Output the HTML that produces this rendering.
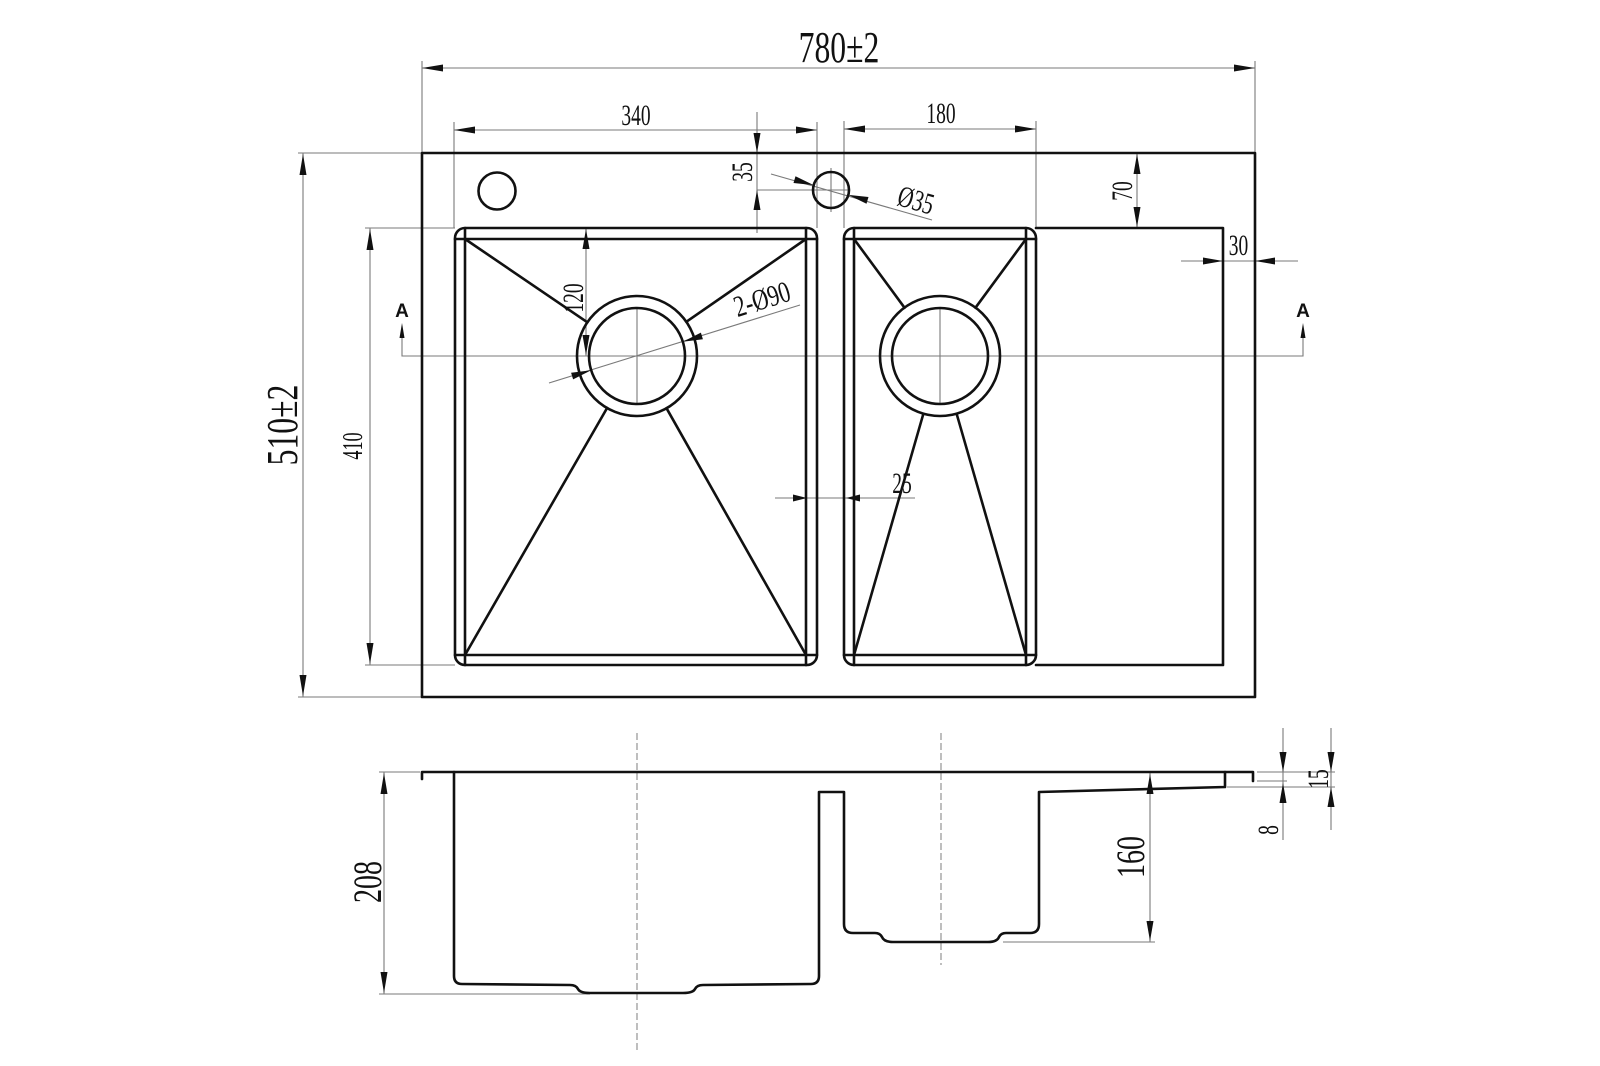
<!DOCTYPE html>
<html>
<head>
<meta charset="utf-8">
<style>
  html, body { margin: 0; padding: 0; background: #ffffff; }
  svg { display: block; }
  .thick { stroke: #111; stroke-width: 2.6; fill: none; stroke-linejoin: round; stroke-linecap: round; }
  .thin { stroke: #7a7a7a; stroke-width: 1.1; fill: none; }
  .dash { stroke: #8a8a8a; stroke-width: 1.1; fill: none; stroke-dasharray: 7 3; }
  .arr { fill: #111; stroke: none; }
  text { font-family: "Liberation Serif", "DejaVu Serif", serif; fill: #111; }
  .big { font-size: 44px; }
  .mid { font-size: 40px; }
  .sm { font-size: 30px; }
  .xs { font-size: 28px; }
  .A { font-family: "Liberation Sans", "DejaVu Sans", sans-serif; font-weight: bold; font-size: 19px; }
</style>
</head>
<body>
<svg width="1600" height="1066" viewBox="0 0 1600 1066" xmlns="http://www.w3.org/2000/svg">
  <rect x="0" y="0" width="1600" height="1066" fill="#ffffff"/>

  <!-- ================= TOP VIEW ================= -->
  <!-- thin dimension / extension lines -->
  <g class="thin">
    <!-- 780 -->
    <line x1="422" y1="68" x2="1255" y2="68"/>
    <line x1="422" y1="61" x2="422" y2="153"/>
    <line x1="1255" y1="61" x2="1255" y2="153"/>
    <!-- 340 -->
    <line x1="454" y1="130" x2="817" y2="130"/>
    <line x1="454" y1="122" x2="454" y2="228"/>
    <line x1="817" y1="122" x2="817" y2="228"/>
    <!-- 180 -->
    <line x1="844" y1="129" x2="1036" y2="129"/>
    <line x1="844" y1="121" x2="844" y2="228"/>
    <line x1="1036" y1="121" x2="1036" y2="228"/>
    <!-- 35 -->
    <line x1="757" y1="112" x2="757" y2="233"/>
    <line x1="757" y1="190" x2="850" y2="190"/>
    <line x1="831" y1="168" x2="831" y2="212"/>
    <!-- Ø35 leader -->
    <line x1="771" y1="174" x2="932" y2="220"/>
    <!-- 70 -->
    <line x1="1137" y1="153" x2="1137" y2="228"/>
    <!-- 30 -->
    <line x1="1181" y1="261" x2="1298" y2="261"/>
    <!-- 510 -->
    <line x1="303" y1="153" x2="303" y2="697"/>
    <line x1="298" y1="153" x2="422" y2="153"/>
    <line x1="298" y1="697" x2="422" y2="697"/>
    <!-- 410 -->
    <line x1="370" y1="228" x2="370" y2="665"/>
    <line x1="365" y1="228" x2="455" y2="228"/>
    <line x1="365" y1="665" x2="455" y2="665"/>
    <!-- 120 -->
    <line x1="586" y1="228" x2="586" y2="356"/>
    <!-- 2-Ø90 leader -->
    <line x1="549" y1="383" x2="800" y2="305"/>
    <!-- section line A-A -->
    <polyline points="402,338 402,356 1303,356 1303,338"/>
    <!-- drain crosshairs -->
    <line x1="637" y1="308" x2="637" y2="404"/>
    <line x1="940" y1="308" x2="940" y2="404"/>
    <!-- 25 -->
    <line x1="775" y1="498" x2="915" y2="498"/>
  </g>

  <!-- thick outlines -->
  <g class="thick">
    <rect x="422" y="153" width="833" height="544"/>
    <polyline points="1036,228 1223,228 1223,665 1036,665"/>
    <!-- tap holes -->
    <circle cx="497" cy="191" r="18.5"/>
    <circle cx="831" cy="190" r="18"/>

    <!-- left bowl -->
    <rect x="455" y="228" width="362" height="437" rx="10" ry="10"/>
    <line x1="465" y1="228" x2="465" y2="665"/>
    <line x1="806" y1="228" x2="806" y2="665"/>
    <line x1="455" y1="239" x2="817" y2="239"/>
    <line x1="455" y1="655" x2="817" y2="655"/>
    <circle cx="637" cy="356" r="60"/>
    <circle cx="637" cy="356" r="48"/>
    <line x1="465" y1="239" x2="587.4" y2="322.3"/>
    <line x1="806" y1="239" x2="686.3" y2="321.8"/>
    <line x1="465" y1="655" x2="607.1" y2="408.0"/>
    <line x1="806" y1="655" x2="666.5" y2="408.2"/>

    <!-- right bowl -->
    <rect x="844" y="228" width="192" height="437" rx="10" ry="10"/>
    <line x1="854" y1="228" x2="854" y2="665"/>
    <line x1="1026" y1="228" x2="1026" y2="665"/>
    <line x1="844" y1="239" x2="1036" y2="239"/>
    <line x1="844" y1="655" x2="1036" y2="655"/>
    <circle cx="940" cy="356" r="60"/>
    <circle cx="940" cy="356" r="48"/>
    <line x1="854" y1="239" x2="904.5" y2="307.7"/>
    <line x1="1026" y1="239" x2="975.5" y2="307.7"/>
    <line x1="854" y1="655" x2="923.4" y2="413.7"/>
    <line x1="1026" y1="655" x2="956.6" y2="413.7"/>
  </g>

  <!-- arrowheads top view -->
  <g class="arr">
    <!-- 780 -->
    <polygon points="422,68 443,64.5 443,71.5"/>
    <polygon points="1255,68 1234,64.5 1234,71.5"/>
    <!-- 340 -->
    <polygon points="454,130 475,126.5 475,133.5"/>
    <polygon points="817,130 796,126.5 796,133.5"/>
    <!-- 180 -->
    <polygon points="844,129 865,125.5 865,132.5"/>
    <polygon points="1036,129 1015,125.5 1015,132.5"/>
    <!-- 35 -->
    <polygon points="757,153 753.5,133 760.5,133"/>
    <polygon points="757,190 753.5,210 760.5,210"/>
    <!-- Ø35 -->
    <polygon points="813.7,185.1 795.5,176.2 793.5,183.0"/>
    <polygon points="848.3,194.9 866.5,203.8 868.5,197.0"/>
    <!-- 70 -->
    <polygon points="1137,154 1133.5,174 1140.5,174"/>
    <polygon points="1137,227 1133.5,207 1140.5,207"/>
    <!-- 30 -->
    <polygon points="1223,261 1203,257.5 1203,264.5"/>
    <polygon points="1255,261 1275,257.5 1275,264.5"/>
    <!-- 510 -->
    <polygon points="303,154 299.5,175 306.5,175"/>
    <polygon points="303,696 299.5,675 306.5,675"/>
    <!-- 410 -->
    <polygon points="370,229 366.5,250 373.5,250"/>
    <polygon points="370,664 366.5,643 373.5,643"/>
    <!-- 120 -->
    <polygon points="586,229 582.5,249 589.5,249"/>
    <polygon points="586,355 582.5,335 589.5,335"/>
    <!-- 2-Ø90 -->
    <polygon points="682.8,341.8 702.9,339.2 700.9,332.6"/>
    <polygon points="591.2,370.2 573.1,379.4 571.1,372.8"/>
    <!-- 25 -->
    <polygon points="807,498 793,494.5 793,501.5"/>
    <polygon points="846,498 860,494.5 860,501.5"/>
    <!-- A markers -->
    <polygon points="402,323 399.5,338 404.5,338"/>
    <polygon points="1303,323 1300.5,338 1305.5,338"/>
  </g>

  <!-- top view texts -->
  <text class="big" text-anchor="middle" transform="translate(839,62) scale(0.72,1)">780±2</text>
  <text class="big" text-anchor="middle" transform="translate(297,425) rotate(-90) scale(0.72,1)">510±2</text>
  <text class="sm" text-anchor="middle" transform="translate(636,125) scale(0.65,1)">340</text>
  <text class="sm" text-anchor="middle" transform="translate(941,123) scale(0.65,1)">180</text>
  <text class="sm" text-anchor="middle" transform="translate(752,172) rotate(-90) scale(0.65,1)">35</text>
  <text class="sm" text-anchor="middle" transform="translate(1132,191) rotate(-90) scale(0.65,1)">70</text>
  <text class="sm" text-anchor="middle" transform="translate(1238.5,255) scale(0.65,1)">30</text>
  <text class="sm" text-anchor="middle" transform="translate(916,200) rotate(16) scale(0.7,1)" y="10">Ø35</text>
  <text class="sm" text-anchor="middle" transform="translate(583,298) rotate(-90) scale(0.65,1)">120</text>
  <text class="sm" text-anchor="middle" transform="translate(762,299) rotate(-17.3) scale(0.75,1)" y="10">2-Ø90</text>
  <text class="sm" text-anchor="middle" transform="translate(902,493) scale(0.65,1)">25</text>
  <text class="xs" text-anchor="middle" transform="translate(362,446) rotate(-90) scale(0.65,1)">410</text>
  <text class="A" text-anchor="middle" x="402" y="317">A</text>
  <text class="A" text-anchor="middle" x="1303" y="317">A</text>

  <!-- ================= SECTION VIEW ================= -->
  <g class="dash">
    <line x1="637" y1="733" x2="637" y2="1051"/>
    <line x1="941" y1="733" x2="941" y2="965"/>
  </g>
  <g class="thin">
    <!-- 208 -->
    <line x1="384" y1="772" x2="384" y2="994"/>
    <line x1="379" y1="772" x2="420" y2="772"/>
    <line x1="379" y1="994" x2="590" y2="994"/>
    <!-- 160 -->
    <line x1="1150" y1="773" x2="1150" y2="942"/>
    <line x1="1003" y1="942" x2="1155" y2="942"/>
    <!-- 8 -->
    <line x1="1283" y1="728" x2="1283" y2="840"/>
    <line x1="1257" y1="781" x2="1287" y2="781"/>
    <!-- 15 -->
    <line x1="1331" y1="728" x2="1331" y2="830"/>
    <line x1="1257" y1="772" x2="1335" y2="772"/>
    <line x1="1227" y1="787" x2="1335" y2="787"/>
  </g>
  <g class="thick">
    <path d="M422,779 L422,772 L1253,772 L1253,781"/>
    <path d="M454,772 L454,976 Q454,984 462,984 L570,985 Q576,985 578,989 Q580,993 590,993 L683,993 Q693,993 695,989 Q697,985 703,985 L811,984 Q819,984 819,976 L819,792 L844,792 L844,924 Q844,933 853,933 L875,933 Q880,933 882,937 Q884,942 893,942 L988,942 Q997,942 999,937 Q1001,933 1006,933 L1030,933 Q1039,933 1039,924 L1039,792 L1225,787 L1225,772"/>
  </g>
  <g class="arr">
    <!-- 208 -->
    <polygon points="384,773 380.5,794 387.5,794"/>
    <polygon points="384,993 380.5,972 387.5,972"/>
    <!-- 160 -->
    <polygon points="1150,774 1146.5,794 1153.5,794"/>
    <polygon points="1150,941 1146.5,921 1153.5,921"/>
    <!-- 8 -->
    <polygon points="1283,772 1279.5,752 1286.5,752"/>
    <polygon points="1283,783 1279.5,803 1286.5,803"/>
    <!-- 15 -->
    <polygon points="1331,772 1327.5,752 1334.5,752"/>
    <polygon points="1331,787 1327.5,807 1334.5,807"/>
  </g>
  <text class="mid" text-anchor="middle" transform="translate(381,882) rotate(-90) scale(0.7,1)">208</text>
  <text class="mid" text-anchor="middle" transform="translate(1144,857) rotate(-90) scale(0.7,1)">160</text>
  <text class="sm" text-anchor="middle" transform="translate(1328,779) rotate(-90) scale(0.65,1)">15</text>
  <text class="sm" text-anchor="middle" transform="translate(1278,830) rotate(-90) scale(0.65,1)">8</text>
</svg>
</body>
</html>
